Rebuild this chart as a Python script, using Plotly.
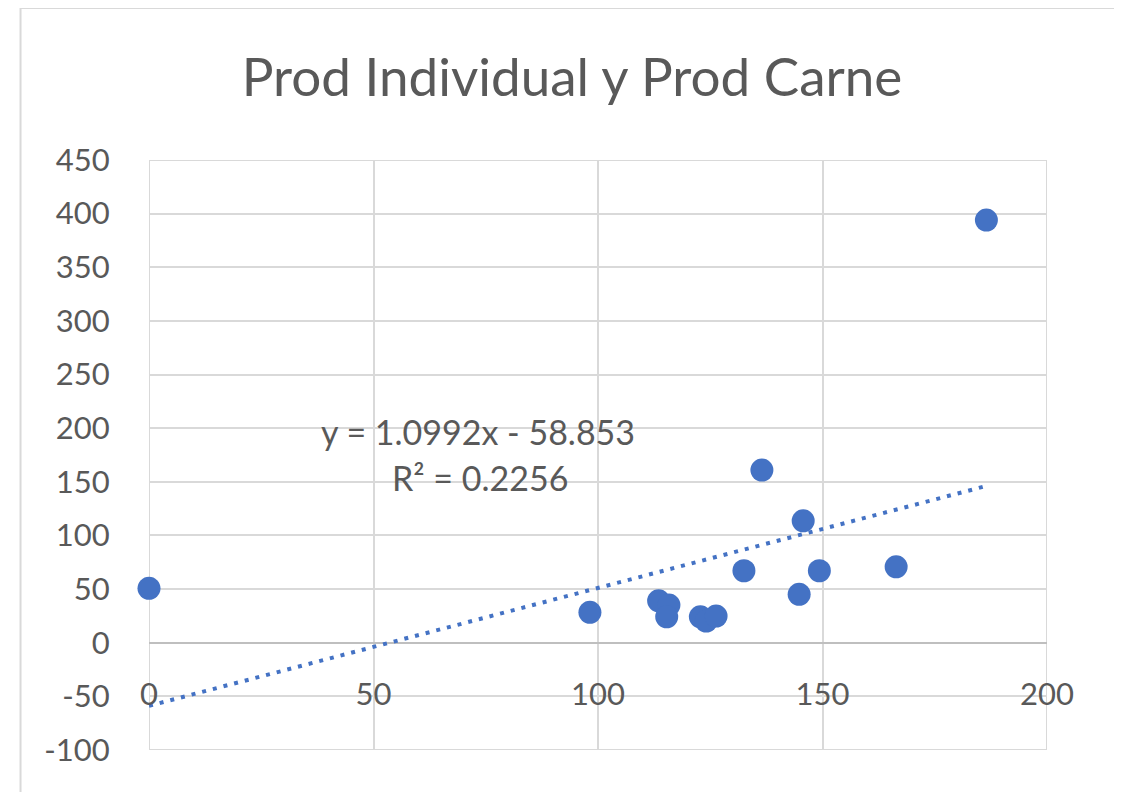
import plotly.graph_objects as go

# data
prod_individual = [0, 98.2, 113.5, 115.8, 115.3, 122.8, 124.1, 126.3, 132.5,
                   136.5, 144.8, 145.7, 149.3, 166.4, 186.5]
prod_carne = [50.7, 28.3, 39.1, 35.1, 24.2, 24.2, 20.2, 24.9, 67.1,
              161.0, 45.1, 113.7, 67.1, 70.8, 394.0]

trend_slope = 1.0992
trend_intercept = -58.853
trend_r2 = 0.2256

x_ticks = [0, 50, 100, 150, 200]
y_ticks = [450, 400, 350, 300, 250, 200, 150, 100, 50, 0, -50, -100]

blue = '#4472C4'
grid = '#d9d9d9'
txt = '#595959'
font = 'Lato, Open Sans, sans-serif'

# page has an 8px body margin, so work in page pixels and shift
OFF = 8
W, H = 1122 - OFF, 792 - OFF
L, R, T, B = 148.5 - OFF, 1046.7 - OFF, 160 - OFF, 750 - OFF
pw, ph = R - L, B - T

def px(x):
    return (x - OFF - L) / pw

def py(y):
    return (B - (y - OFF)) / ph

trend_x = [0, max(prod_individual)]
trend_y = [trend_slope * v + trend_intercept for v in trend_x]

points = go.Scatter(
    x=prod_individual, y=prod_carne, mode='markers', cliponaxis=False,
    marker=dict(color=blue, size=23, line=dict(width=0)),
    showlegend=False, hoverinfo='x+y'
)

trend = go.Scatter(
    x=trend_x, y=trend_y, mode='lines',
    line=dict(color=blue, width=4, dash='4px,7px'),
    showlegend=False, hoverinfo='skip'
)

fig = go.Figure(data=[trend, points])

fig.update_layout(
    width=W, height=H,
    margin=dict(l=L, r=W - R, t=T, b=H - B, pad=0),
    paper_bgcolor='white', plot_bgcolor='white',
    font=dict(family=font, color=txt, size=31),
    title=dict(text='Prod Individual y Prod Carne', x=(572 - OFF) / W, xanchor='center',
               y=1 - (77 - OFF) / H, yanchor='middle',
               font=dict(size=53, color=txt, family=font)),
    xaxis=dict(
        range=[0, 200], tickvals=x_ticks, ticktext=[str(v) for v in x_ticks],
        showgrid=True, gridcolor=grid, gridwidth=2, zeroline=False,
        showline=False, ticks='', anchor='free',
        position=py(673),
    ),
    yaxis=dict(
        range=[-100, 450], tickvals=y_ticks, ticktext=[str(v) for v in y_ticks],
        showgrid=True, gridcolor=grid, gridwidth=2,
        zeroline=True, zerolinecolor='#bfbfbf', zerolinewidth=2,
        showline=False, ticks='outside', ticklen=32, tickcolor='rgba(0,0,0,0)',
    ),
    annotations=[
        dict(text='y = %.4fx - %.3f' % (trend_slope, -trend_intercept),
             x=px(478), y=py(432), xref='paper', yref='paper', showarrow=False,
             font=dict(size=34, color=txt, family=font)),
        dict(text='R² = %.4f' % trend_r2,
             x=px(480), y=py(477), xref='paper', yref='paper', showarrow=False,
             font=dict(size=34, color=txt, family=font)),
    ],
    shapes=[
        # frame of the plot area
        dict(type='rect', xref='x', yref='y', x0=0, x1=200, y0=-100, y1=450,
             line=dict(color=grid, width=2), layer='below'),
        # outer chart border
        dict(type='rect', xref='paper', yref='paper',
             x0=px(20), x1=px(1118), y0=py(820), y1=py(OFF),
             line=dict(color=grid, width=2), layer='below'),
    ],
)

fig.write_html('out.html')
